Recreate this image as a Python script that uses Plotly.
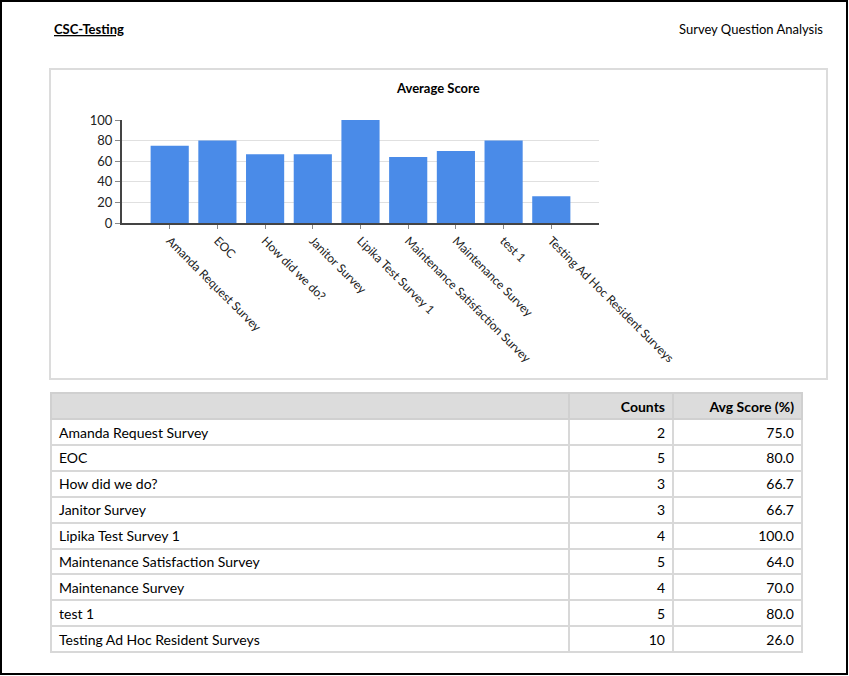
import plotly.graph_objects as go

W, H = 849, 676

surveys = [
    "Amanda Request Survey",
    "EOC",
    "How did we do?",
    "Janitor Survey",
    "Lipika Test Survey 1",
    "Maintenance Satisfaction Survey",
    "Maintenance Survey",
    "test 1",
    "Testing Ad Hoc Resident Surveys",
]
counts = [2, 5, 3, 3, 4, 5, 4, 5, 10]
avg_scores = [75.0, 80.0, 66.7, 66.7, 100.0, 64.0, 70.0, 80.0, 26.0]
table_header = ["", "Counts", "Avg Score (%)"]

FONT = "Lato"


def px_x(v):
    return v / W


def px_y(v):
    return 1 - v / H


fig = go.Figure()

# bar chart
fig.add_trace(go.Bar(
    x=list(range(len(surveys))),
    y=avg_scores,
    width=0.8,
    marker=dict(color="#4a8be8", line=dict(width=0)),
    hoverinfo="skip",
    showlegend=False,
))

# summary table
fig.add_trace(go.Table(
    domain=dict(x=[px_x(51), px_x(802)], y=[px_y(656), px_y(393)]),
    columnwidth=[518, 104, 129],
    header=dict(
        values=table_header,
        fill_color="#dcdcdc",
        line=dict(color="#d0d0d0", width=2),
        align=["left", "right", "right"],
        font=dict(family=FONT, size=14, color="#000", weight="bold"),
        height=26,
    ),
    cells=dict(
        values=[surveys, counts, [f"{v:.1f}" for v in avg_scores]],
        fill_color="white",
        line=dict(color="#d8d8d8", width=2),
        align=["left", "right", "right"],
        font=dict(family=FONT, size=14, color="#000"),
        height=25.9,
    ),
))

fig.update_layout(
    width=W,
    height=H,
    margin=dict(l=0, r=0, t=0, b=0),
    paper_bgcolor="white",
    plot_bgcolor="white",
    font=dict(family=FONT, color="#222"),
    xaxis=dict(
        domain=[px_x(122), px_x(599)],
        range=[-1, 9],
        automargin=False,
        tickmode="array",
        tickvals=list(range(len(surveys))),
        ticktext=surveys,
        tickangle=45,
        tickfont=dict(size=12, color="#222"),
        ticks="outside",
        ticklen=4,
        tickcolor="#888",
        showline=True,
        linecolor="#444",
        linewidth=2,
        showgrid=False,
        zeroline=False,
        fixedrange=True,
    ),
    yaxis=dict(
        domain=[px_y(223), px_y(120)],
        range=[0, 100],
        automargin=False,
        tickvals=[0, 20, 40, 60, 80, 100],
        tickfont=dict(size=13, color="#222"),
        ticks="outside",
        ticklen=5,
        tickcolor="#888",
        showline=True,
        linecolor="#444",
        linewidth=2,
        gridcolor="#e0e0e0",
        gridwidth=1,
        zeroline=False,
        fixedrange=True,
    ),
    shapes=[
        # page frame
        dict(type="rect", xref="paper", yref="paper",
             x0=px_x(1), x1=px_x(847), y0=px_y(674), y1=px_y(1),
             line=dict(color="#000", width=2)),
        # chart box
        dict(type="rect", xref="paper", yref="paper",
             x0=px_x(50), x1=px_x(827), y0=px_y(379), y1=px_y(69),
             line=dict(color="#dcdcdc", width=2), layer="below"),
    ],
    annotations=[
        dict(text="<b><u>CSC-Testing</u></b>", xref="paper", yref="paper",
             x=px_x(52), y=px_y(29), xanchor="left", yanchor="middle",
             showarrow=False, font=dict(size=13, color="#000")),
        dict(text="Survey Question Analysis", xref="paper", yref="paper",
             x=px_x(825), y=px_y(29), xanchor="right", yanchor="middle",
             showarrow=False, font=dict(size=13, color="#000")),
        dict(text="<b>Average Score</b>", xref="paper", yref="paper",
             x=px_x(438), y=px_y(88), xanchor="center", yanchor="middle",
             showarrow=False, font=dict(size=13, color="#000")),
    ],
)

fig.write_html(
    "out.html",
    config={"displayModeBar": False},
    post_script="document.body.style.margin='0';document.body.style.overflow='hidden';",
)
